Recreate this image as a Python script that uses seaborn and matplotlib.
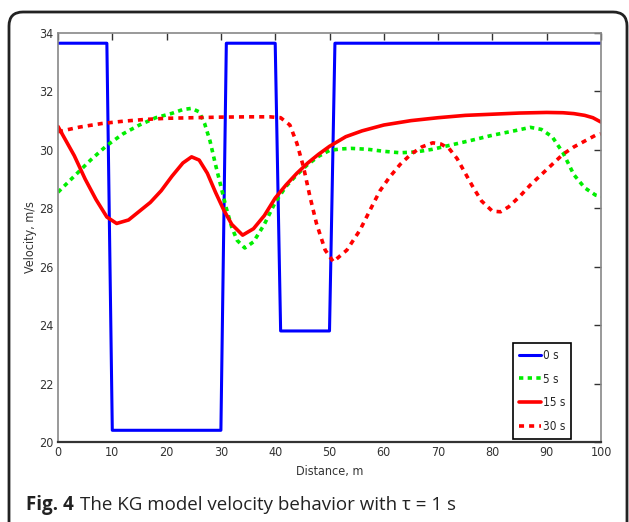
import matplotlib
matplotlib.use("Agg")
import matplotlib.pyplot as plt
import seaborn as sns
from matplotlib.patches import FancyBboxPatch
from matplotlib.transforms import IdentityTransform

sns.set_style("white")
plt.rcParams['font.family'] = ['DejaVu Sans']
plt.rcParams['font.stretch'] = 'condensed'

# -----------------------------
# data
# -----------------------------
x_0s = [0, 9, 10, 30, 31, 40, 41, 50, 51, 100]
v_0s = [33.65, 33.65, 20.4, 20.4, 33.65, 33.65, 23.8, 23.8, 33.65, 33.65]

x_5s = [0, 3, 6, 9, 12, 15, 18, 21, 23, 24.6, 26, 27, 28, 29, 30, 31, 32, 33, 34.4,
        36, 38, 40, 42, 44, 46, 48, 50, 52, 54, 57, 60, 63, 66, 69, 72, 76, 80, 84,
        87, 89, 91, 93, 95, 97, 99, 100]
v_5s = [28.55, 29.1, 29.65, 30.15, 30.55, 30.85, 31.1, 31.25, 31.38, 31.42, 31.3, 30.9,
        30.3, 29.5, 28.75, 28.0, 27.35, 26.9, 26.64, 26.85, 27.45, 28.2, 28.75, 29.15,
        29.5, 29.78, 29.98, 30.03, 30.05, 30.02, 29.95, 29.9, 29.93, 30.02, 30.15, 30.32,
        30.5, 30.65, 30.77, 30.7, 30.45, 29.9, 29.15, 28.7, 28.45, 28.4]

x_15s = [0, 1.5, 3, 5, 7, 9, 10.8, 13, 15, 17, 19, 21, 23, 24.6, 26, 27.5, 29, 30.5,
         32, 34, 36, 38, 40, 42, 44, 46, 48, 50, 53, 56, 60, 65, 70, 75, 80, 85, 90,
         93, 95, 97, 98.5, 100]
v_15s = [30.8, 30.3, 29.8, 29.0, 28.3, 27.7, 27.48, 27.6, 27.9, 28.2, 28.6, 29.1, 29.55,
         29.76, 29.65, 29.2, 28.55, 27.95, 27.45, 27.08, 27.3, 27.75, 28.35, 28.8, 29.2,
         29.55, 29.85, 30.12, 30.45, 30.65, 30.85, 31.0, 31.1, 31.18, 31.22, 31.26, 31.28,
         31.27, 31.24, 31.18, 31.1, 30.95]

x_30s = [0, 4, 8, 12, 16, 20, 25, 30, 35, 39, 41, 42.7, 44, 45.2, 46.4, 47.6, 49.2,
         50.7, 53.2, 55.6, 58.1, 59.3, 61, 63, 65, 67, 69, 70.5, 72, 73.5, 75, 76.5,
         78, 80, 81.5, 83, 85, 87, 89, 91, 93, 95, 97, 99, 100]
v_30s = [30.62, 30.78, 30.9, 30.98, 31.04, 31.08, 31.1, 31.12, 31.13, 31.13, 31.1, 30.85,
         30.22, 29.42, 28.4, 27.48, 26.57, 26.17, 26.57, 27.25, 28.17, 28.6, 29.05, 29.5,
         29.85, 30.1, 30.24, 30.2, 30.05, 29.7, 29.2, 28.7, 28.25, 27.9, 27.88, 28.05,
         28.4, 28.8, 29.15, 29.5, 29.85, 30.1, 30.3, 30.5, 30.55]

x_ticks = list(range(0, 101, 10))
y_ticks = list(range(20, 35, 2))

# -----------------------------
# figure
# -----------------------------
fig = plt.figure(figsize=(6.29, 5.22), dpi=100)
ax = fig.add_axes([0.0922, 0.1533, 0.8633, 0.7835])

sns.lineplot(x=x_0s, y=v_0s, ax=ax, color='#0000ff', lw=2.2, sort=False, label='0 s')
sns.lineplot(x=x_5s, y=v_5s, ax=ax, color='#00ee00', lw=2.6, sort=False, label='5 s')
ax.lines[-1].set_dashes((1.2, 1.2))
sns.lineplot(x=x_15s, y=v_15s, ax=ax, color='#ff0000', lw=2.6, sort=False, label='15 s')
sns.lineplot(x=x_30s, y=v_30s, ax=ax, color='#ff0000', lw=2.6, sort=False, label='30 s')
ax.lines[-1].set_dashes((1.4, 1.4))

ax.set_xlim(0, 100)
ax.set_ylim(20, 34)
ax.set_xticks(x_ticks)
ax.set_yticks(y_ticks)
ax.tick_params(direction='in', top=True, right=True, length=5, width=1,
               labelsize=9, colors='#333333', pad=3)
for side in ['top', 'right', 'left']:
    ax.spines[side].set_color('#888888')
    ax.spines[side].set_linewidth(1.2)
ax.spines['bottom'].set_color('#333333')
ax.spines['bottom'].set_linewidth(1.6)

ax.set_xlabel('Distance, m', fontsize=9, color='#333333', labelpad=4)
ax.set_ylabel('Velocity, m/s', fontsize=9, color='#333333', labelpad=2)

leg = ax.legend(loc='lower right', bbox_to_anchor=(0.945, 0.008), fontsize=8.5,
                handlelength=1.8, handletextpad=0.2, borderpad=0.5, labelspacing=0.9,
                fancybox=False, framealpha=1, borderaxespad=0)
leg.get_frame().set_edgecolor('black')
leg.get_frame().set_linewidth(1.2)

# rounded frame around figure + caption
frame = FancyBboxPatch((9, -20), 618, 530, boxstyle="round,pad=0,rounding_size=14",
                       transform=IdentityTransform(), fill=False, lw=2, ec='#222222')
fig.add_artist(frame)

cap_font = ['Open Sans', 'DejaVu Sans']
t1 = fig.text(26 / 629, 1 - 510 / 522, 'Fig. 4', fontsize=13.5, fontweight='bold',
              family=cap_font, stretch='normal', color='#222222', va='baseline')
fig.canvas.draw()
bb = t1.get_window_extent(fig.canvas.get_renderer())
fig.text((bb.x1 + 6) / 629, 1 - 510 / 522, 'The KG model velocity behavior with τ = 1 s',
         fontsize=13.5, family=cap_font, stretch='normal', color='#222222', va='baseline')

fig.savefig('out.png', dpi=100)
